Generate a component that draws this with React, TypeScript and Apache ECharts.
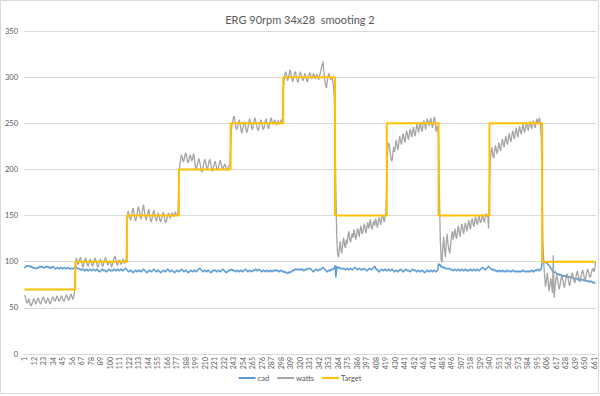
import React, { useEffect, useRef } from "react";
import * as echarts from "echarts";

const categories: string[] = Array.from({ length: 663 }, (_, i) => String(i + 1));

const cad: number[] = [
  93, 94, 95, 96, 95, 96, 95, 94, 95, 94,
  93, 94, 93, 92, 93, 94, 93, 94, 95, 94,
  95, 94, 94, 93, 94, 95, 94, 95, 94, 93,
  94, 93, 94, 95, 94, 93, 92, 93, 94, 93,
  92, 93, 94, 93, 92, 93, 94, 93, 92, 93,
  94, 93, 92, 93, 92, 93, 92, 93, 94, 95,
  94, 93, 92, 93, 92, 91, 92, 91, 92, 91,
  90, 91, 92, 91, 90, 91, 92, 91, 90, 91,
  92, 91, 90, 91, 92, 91, 90, 89, 90, 91,
  92, 91, 90, 91, 90, 89, 90, 91, 92, 91,
  90, 91, 90, 91, 92, 91, 90, 91, 92, 91,
  90, 91, 92, 91, 90, 91, 92, 93, 92, 91,
  90, 89, 90, 91, 90, 89, 88, 89, 90, 91,
  90, 89, 90, 91, 90, 89, 90, 91, 92, 91,
  90, 89, 88, 89, 90, 91, 90, 89, 90, 91,
  92, 91, 90, 89, 90, 91, 90, 89, 88, 89,
  90, 91, 90, 89, 90, 91, 92, 91, 90, 89,
  90, 91, 90, 89, 88, 89, 90, 91, 90, 89,
  90, 91, 92, 91, 90, 89, 90, 91, 90, 89,
  88, 89, 90, 91, 90, 89, 90, 91, 90, 89,
  90, 91, 92, 93, 92, 91, 90, 89, 90, 91,
  90, 89, 90, 91, 90, 89, 88, 89, 90, 91,
  90, 91, 90, 89, 90, 91, 90, 89, 90, 91,
  92, 91, 90, 89, 88, 89, 90, 91, 90, 91,
  92, 91, 90, 91, 90, 89, 90, 91, 90, 89,
  90, 91, 90, 89, 90, 91, 92, 91, 90, 89,
  90, 91, 90, 89, 90, 91, 90, 91, 92, 91,
  90, 91, 92, 91, 90, 89, 90, 91, 90, 89,
  90, 91, 90, 89, 90, 91, 90, 89, 90, 91,
  90, 91, 90, 91, 90, 89, 90, 91, 90, 89,
  90, 89, 88, 89, 88, 87, 88, 89, 88, 89,
  90, 91, 90, 91, 92, 91, 92, 91, 92, 91,
  92, 91, 92, 91, 90, 91, 92, 91, 92, 93,
  92, 93, 92, 91, 90, 89, 90, 91, 92, 91,
  90, 91, 92, 91, 92, 93, 94, 93, 92, 91,
  90, 89, 90, 91, 90, 91, 92, 91, 92, 93,
  96, 83, 95, 94, 93, 94, 93, 92, 93, 92,
  93, 92, 91, 92, 93, 92, 91, 92, 93, 92,
  91, 92, 93, 94, 93, 92, 91, 92, 93, 92,
  91, 92, 91, 92, 93, 92, 91, 90, 91, 92,
  93, 92, 91, 92, 93, 94, 95, 93, 91, 92,
  90, 89, 90, 91, 92, 91, 90, 91, 92, 91,
  90, 91, 92, 91, 90, 91, 92, 91, 90, 89,
  90, 91, 90, 89, 90, 91, 92, 91, 90, 89,
  90, 91, 92, 91, 90, 91, 90, 89, 90, 91,
  92, 91, 90, 91, 90, 89, 90, 91, 90, 89,
  90, 91, 90, 89, 88, 89, 90, 91, 90, 89,
  90, 91, 90, 89, 90, 91, 90, 89, 90, 91,
  98, 96, 97, 94, 95, 94, 93, 94, 93, 92,
  93, 92, 93, 92, 91, 92, 91, 90, 91, 92,
  91, 90, 91, 92, 91, 90, 91, 92, 91, 90,
  91, 92, 91, 90, 91, 90, 91, 92, 91, 90,
  91, 92, 91, 90, 91, 92, 91, 90, 91, 92,
  93, 94, 93, 92, 91, 92, 93, 94, 95, 94,
  93, 92, 91, 92, 91, 90, 91, 90, 89, 90,
  91, 90, 89, 90, 91, 90, 89, 90, 89, 90,
  91, 90, 89, 90, 89, 90, 91, 90, 89, 90,
  89, 90, 89, 90, 89, 90, 89, 90, 91, 90,
  89, 90, 89, 90, 89, 90, 89, 90, 91, 90,
  89, 90, 91, 90, 91, 92, 91, 90, 91, 92,
  99, 100, 100, 99, 100, 99, 98, 97, 96, 95,
  93, 92, 90, 89, 88, 89, 88, 87, 86, 87,
  86, 85, 86, 85, 84, 85, 84, 85, 84, 83,
  84, 83, 84, 83, 82, 83, 82, 81, 82, 81,
  82, 81, 80, 81, 82, 81, 80, 81, 80, 79,
  80, 79, 80, 79, 78, 79, 78, 79, 78, 77,
  78, 77, 77,
];

const watts: number[] = [
  64, 62, 58, 55, 57, 60, 56, 53, 52, 55,
  58, 60, 57, 54, 56, 59, 61, 58, 55, 54,
  57, 60, 62, 59, 56, 55, 58, 61, 59, 56,
  54, 57, 60, 62, 60, 57, 58, 61, 63, 60,
  57, 58, 61, 63, 61, 58, 57, 60, 63, 64,
  61, 58, 60, 63, 65, 62, 59, 62, 66, 92,
  104, 101, 97, 99, 103, 105, 101, 96, 94, 98,
  102, 104, 100, 96, 95, 99, 103, 101, 97, 95,
  98, 102, 104, 101, 97, 94, 96, 100, 103, 100,
  96, 95, 99, 102, 105, 102, 98, 96, 99, 101,
  98, 94, 97, 101, 104, 106, 102, 98, 96, 99,
  102, 100, 97, 99, 103, 101, 98, 100, 103, 140,
  155, 152, 148, 145, 149, 155, 158, 153, 147, 144,
  148, 154, 160, 156, 150, 146, 151, 157, 162, 155,
  149, 145, 148, 153, 157, 152, 146, 143, 147, 152,
  156, 151, 146, 144, 148, 153, 150, 145, 143, 147,
  151, 154, 149, 144, 142, 146, 150, 153, 149, 147,
  150, 153, 151, 149, 152, 154, 151, 150, 152, 185,
  205, 211, 216, 213, 208, 210, 215, 218, 214, 209,
  207, 211, 216, 213, 209, 212, 217, 212, 204, 200,
  203, 208, 212, 209, 204, 199, 197, 202, 207, 211,
  208, 203, 200, 204, 209, 211, 206, 201, 198, 202,
  206, 209, 205, 201, 199, 203, 207, 210, 206, 202,
  200, 203, 206, 204, 201, 199, 202, 204, 203, 225,
  245, 250, 255, 258, 252, 247, 243, 246, 251, 254,
  249, 243, 239, 244, 249, 252, 248, 242, 240, 245,
  251, 255, 252, 247, 243, 246, 252, 256, 253, 248,
  244, 242, 246, 251, 254, 250, 245, 243, 247, 252,
  255, 251, 247, 244, 248, 253, 256, 252, 249, 251,
  254, 251, 248, 250, 253, 251, 249, 252, 254, 251,
  285, 297, 303, 306, 301, 296, 299, 304, 308, 303,
  298, 295, 299, 304, 306, 302, 297, 294, 298, 303,
  306, 302, 298, 296, 300, 304, 301, 297, 295, 299,
  303, 305, 301, 298, 300, 304, 302, 298, 301, 303,
  300, 297, 301, 305, 309, 313, 317, 306, 298, 292,
  288, 295, 301, 304, 300, 297, 300, 298, 292, 282,
  250, 175, 128, 108, 105, 114, 122, 112, 109, 120,
  126, 118, 115, 124, 119, 128, 133, 124, 121, 127,
  131, 126, 135, 130, 124, 129, 136, 133, 127, 134,
  139, 132, 130, 137, 141, 135, 131, 138, 143, 136,
  140, 146, 138, 135, 141, 144, 139, 147, 143, 137,
  142, 148, 145, 140, 146, 151, 147, 143, 149, 151,
  190, 221, 229, 226, 218, 211, 209, 216, 224, 219,
  226, 232, 225, 221, 229, 236, 231, 227, 234, 239,
  233, 229, 236, 242, 238, 232, 237, 244, 240, 235,
  241, 246, 239, 236, 243, 249, 245, 240, 247, 251,
  244, 241, 248, 253, 249, 243, 250, 255, 252, 247,
  251, 256, 250, 245, 252, 257, 253, 241, 247, 244,
  235, 175, 125, 102, 99, 117, 127, 112, 105, 121,
  130, 119, 113, 109, 118, 128, 133, 124, 130, 136,
  128, 125, 134, 139, 131, 127, 135, 141, 137, 130,
  136, 142, 138, 133, 140, 145, 139, 135, 143, 147,
  141, 138, 145, 149, 143, 140, 146, 150, 144, 142,
  147, 151, 146, 143, 148, 152, 149, 151, 136, 185,
  210, 219, 224, 215, 212, 220, 226, 221, 217, 223,
  229, 224, 220, 227, 233, 228, 224, 231, 236, 230,
  227, 234, 239, 233, 230, 237, 242, 236, 233, 240,
  245, 239, 235, 242, 247, 241, 238, 245, 249, 243,
  240, 247, 251, 245, 242, 248, 252, 247, 244, 250,
  253, 248, 245, 251, 255, 249, 252, 256, 250, 235,
  190, 120, 97, 84, 73, 80, 88, 79, 68, 74,
  82, 76, 66, 107, 61, 72, 81, 86, 80, 74,
  70, 76, 82, 85, 80, 74, 72, 78, 84, 87,
  83, 77, 74, 79, 85, 88, 84, 79, 77, 82,
  87, 90, 85, 80, 78, 83, 88, 91, 87, 82,
  80, 85, 90, 92, 88, 84, 83, 87, 91, 93,
  89, 92, 100,
];

// Target is a step function: level value from the given category index onward
const targetChangeIndex: number[] = [0, 59, 119, 179, 239, 300, 360, 420, 480, 539, 600, 662];
const targetLevel: number[] = [70, 100, 150, 200, 250, 300, 150, 250, 150, 250, 100, 100];

const FONT = "Lato, 'Open Sans', sans-serif";
const TEXT_COLOR = "#595959";
const GRID_COLOR = "#d9d9d9";

export default function App() {
  const ref = useRef<HTMLDivElement>(null);

  useEffect(() => {
    if (!ref.current) return;
    const chart = echarts.init(ref.current, null, { renderer: "svg" });
    const targetData = targetChangeIndex.map((idx, k) => [idx, targetLevel[k]]);
    chart.setOption({
      animation: false,
      backgroundColor: "#ffffff",
      title: {
        text: "ERG 90rpm 34x28  smooting 2",
        left: "center",
        top: 9,
        textStyle: {
          fontFamily: FONT,
          fontSize: 11,
          fontWeight: "normal",
          color: TEXT_COLOR,
        },
      },
      graphic: [
        {
          type: "rect",
          silent: true,
          shape: { x: 0.5, y: 0.5, width: 598, height: 393 },
          style: { fill: "none", stroke: GRID_COLOR, lineWidth: 1 },
        },
      ],
      grid: { left: 24, right: 4, top: 31, bottom: 42 },
      legend: {
        bottom: 9,
        left: "center",
        icon: "rect",
        itemWidth: 17,
        itemHeight: 2,
        itemGap: 8,
        data: ["cad", "watts", "Target"],
        textStyle: { fontFamily: FONT, fontSize: 7.5, color: TEXT_COLOR, padding: [0, 0, 0, -3] },
      },
      xAxis: {
        type: "category",
        data: categories,
        boundaryGap: true,
        axisLine: { lineStyle: { color: GRID_COLOR } },
        axisTick: { show: false },
        axisLabel: {
          interval: 10,
          rotate: 90,
          fontFamily: FONT,
          fontSize: 7,
          color: TEXT_COLOR,
          margin: 3,
        },
        splitLine: { show: false },
      },
      yAxis: {
        type: "value",
        min: 0,
        max: 350,
        interval: 50,
        axisLine: { show: false },
        axisTick: { show: false },
        axisLabel: { fontFamily: FONT, fontSize: 7.5, color: TEXT_COLOR, margin: 6 },
        splitLine: { lineStyle: { color: GRID_COLOR, width: 1 } },
      },
      series: [
        {
          name: "cad",
          type: "line",
          data: cad,
          symbol: "none",
          lineStyle: { color: "#5b9bd5", width: 1.5 },
          itemStyle: { color: "#5b9bd5" },
        },
        {
          name: "watts",
          type: "line",
          data: watts,
          symbol: "none",
          lineStyle: { color: "#a5a5a5", width: 1.3 },
          itemStyle: { color: "#a5a5a5" },
        },
        {
          name: "Target",
          type: "line",
          data: targetData,
          step: "end",
          symbol: "none",
          lineStyle: { color: "#ffc000", width: 2 },
          itemStyle: { color: "#ffc000" },
        },
      ],
    });
    return () => chart.dispose();
  }, []);

  return (
    <div
      ref={ref}
      style={{ position: "absolute", left: 0, top: 0, width: 600, height: 396, background: "#fff" }}
    />
  );
}
